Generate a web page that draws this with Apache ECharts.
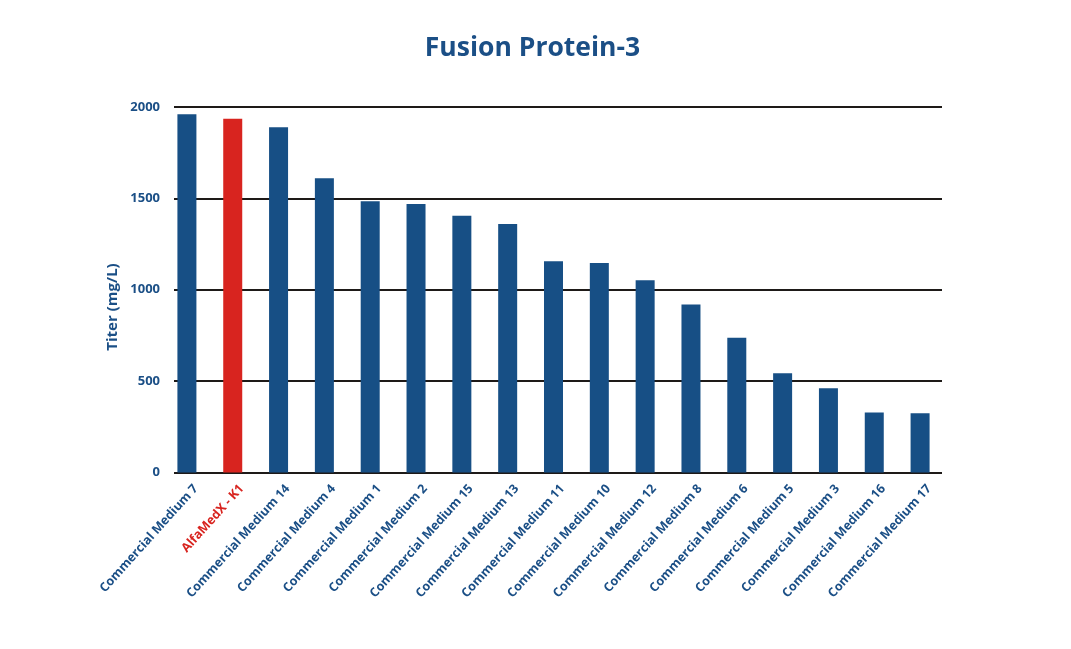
<!DOCTYPE html>
<html>
<head>
<meta charset="utf-8">
<script src="https://cdn.jsdelivr.net/npm/echarts@6/dist/echarts.min.js"></script>
<style>html,body{margin:0;padding:0;background:#fff;}#c{width:1071px;height:649px;}</style>
</head>
<body>
<div id="c"></div>
<script>
const categories = ["Commercial Medium 7","AlfaMedX - K1","Commercial Medium 14","Commercial Medium 4","Commercial Medium 1","Commercial Medium 2","Commercial Medium 15","Commercial Medium 13","Commercial Medium 11","Commercial Medium 10","Commercial Medium 12","Commercial Medium 8","Commercial Medium 6","Commercial Medium 5","Commercial Medium 3","Commercial Medium 16","Commercial Medium 17"];
const titers = [1960,1936,1889,1610,1484,1469,1405,1360,1156,1146,1052,919,738,543,461,329,324];
const highlight = "AlfaMedX - K1";
const yTicks = [0,500,1000,1500,2000];

const BLUE = "#174f85", RED = "#d8241f", TXT = "#1b4f86", LINE = "#1e1a18";
const FONT = "Open Sans";

const chart = echarts.init(document.getElementById('c'));
chart.setOption({
  animation: false,
  backgroundColor: "#fff",
  title: {text: "Fusion Protein-3", left: 527.5, top: 30, textAlign: "center",
    textStyle: {color: TXT, fontFamily: FONT, fontWeight: "bold", fontSize: 26.5}},
  grid: [
    {left: 174, right: 129, top: 107, bottom: 176.5},
    {left: 164, right: 128, top: 107, bottom: 176.5},
    {left: 173, right: 119, top: 107, bottom: 176.5}
  ],
  xAxis: [
    {gridIndex: 0, type: "value", show: false, min: 0, max: 1},
    {gridIndex: 1, type: "category", data: categories,
      axisLine: {show: false}, axisTick: {show: false}, axisLabel: {show: false}},
    {gridIndex: 2, type: "category", data: categories,
      axisLine: {show: false}, axisTick: {show: false},
      axisLabel: {interval: 0, rotate: 48, margin: 14, fontFamily: FONT, fontWeight: "bold", fontSize: 12.5,
        color: function(v){ return v === highlight ? RED : TXT; }}}
  ],
  yAxis: [
    {gridIndex: 0, type: "value", min: yTicks[0], max: yTicks[yTicks.length-1], interval: 500,
      axisLine: {show: false}, axisTick: {show: false},
      splitLine: {lineStyle: {color: LINE, width: 2}},
      axisLabel: {margin: 14, fontFamily: FONT, fontWeight: "bold", fontSize: 13, color: TXT,
        formatter: function(v){ return String(v); }}},
    {gridIndex: 1, type: "value", min: 0, max: 2000, show: false, splitLine: {show: false}},
    {gridIndex: 2, type: "value", min: 0, max: 2000, show: false, splitLine: {show: false}}
  ],
  graphic: [{type: "text", x: 113, y: 307, rotation: Math.PI/2,
    style: {text: "Titer (mg/L)", fill: TXT, font: "bold 15px 'Open Sans'", textAlign: "center", textVerticalAlign: "middle"}}],
  series: [{type: "bar", xAxisIndex: 1, yAxisIndex: 1, barWidth: 19, z: 3,
    data: titers.map((v, i) => ({value: v, itemStyle: {color: categories[i] === highlight ? RED : BLUE}}))}]
});
</script>
</body>
</html>
